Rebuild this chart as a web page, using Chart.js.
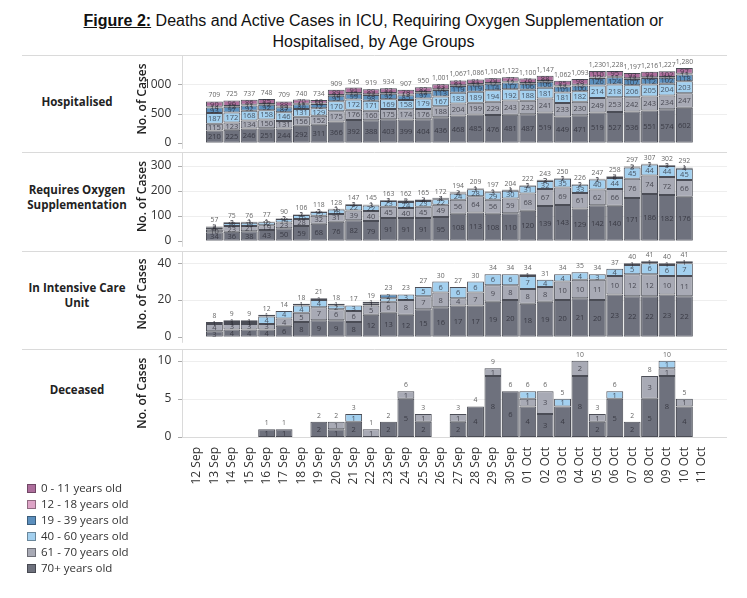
<!DOCTYPE html>
<html>
<head>
<meta charset="utf-8">
<script src="https://cdn.jsdelivr.net/npm/chart.js@4/dist/chart.umd.min.js"></script>
<style>
  body { margin: 0; background: #fff; }
  #hoja { position: relative; width: 747px; height: 598px; overflow: hidden; font-family: "Open Sans", sans-serif; }
  #titulo { position: absolute; top: 10px; left: 0; width: 747px; text-align: center;
            font: 16px/21px "Liberation Sans", Arial, sans-serif; color: #111; }
  .panel { position: absolute; left: 0; width: 747px; }
  .fila { position: absolute; left: 2px; width: 150px; text-align: center; transform: translateY(-50%);
          font-weight: bold; font-size: 11.5px; line-height: 15px; color: #222; }
  #leyenda { position: absolute; left: 27px; top: 480px; font-size: 11.5px; color: #333; }
  #leyenda div { height: 16px; line-height: 16px; }
  #leyenda span { display: inline-block; width: 9px; height: 9px; margin-right: 5px; vertical-align: -1px;
                  border: 1px solid rgba(0,0,0,0.35); box-sizing: border-box; }
</style>
</head>
<body>
<div id="hoja">
  <div id="titulo"><u><b>Figure 2:</b></u> Deaths and Active Cases in ICU, Requiring Oxygen Supplementation or<br>Hospitalised, by Age Groups</div>

  <div class="fila" style="top:101px">Hospitalised</div>
  <div class="fila" style="top:197px">Requires Oxygen<br>Supplementation</div>
  <div class="fila" style="top:295px">In Intensive Care<br>Unit</div>
  <div class="fila" style="top:389px">Deceased</div>

  <div class="panel" style="top:39px;height:120px"><canvas id="g1"></canvas></div>
  <div class="panel" style="top:136px;height:121px"><canvas id="g2"></canvas></div>
  <div class="panel" style="top:235px;height:118px"><canvas id="g3"></canvas></div>
  <div class="panel" style="top:333px;height:154px"><canvas id="g4"></canvas></div>

  <div id="leyenda"></div>
</div>

<script>
// ===============================
// DATOS
// ===============================
const fechas = ["12 Sep","13 Sep","14 Sep","15 Sep","16 Sep","17 Sep","18 Sep","19 Sep","20 Sep","21 Sep",
  "22 Sep","23 Sep","24 Sep","25 Sep","26 Sep","27 Sep","28 Sep","29 Sep","30 Sep","01 Oct",
  "02 Oct","03 Oct","04 Oct","05 Oct","06 Oct","07 Oct","08 Oct","09 Oct","10 Oct","11 Oct"];

const grupos = ["0 - 11 years old","12 - 18 years old","19 - 39 years old","40 - 60 years old","61 - 70 years old","70+ years old"];
const colores = ["#ad6e9c","#dea4c7","#5b8fbd","#a3d0ef","#a8aab5","#6e717d"];

// Hospitalised, 13 Sep - 10 Oct
const hosp0  = [90,96,86,85,88,70,60,89,91,89,83,78,82,83,81,81,79,77,76,88,85,98,110,95,93,93,102,97];
const hosp12 = [14,12,11,12,13,11,10,14,15,13,12,13,12,14,12,13,12,12,11,12,13,12,12,11,13,12,11,13];
const hosp19 = [93,97,92,92,87,80,72,95,99,98,92,85,97,113,119,119,114,117,106,106,101,100,126,124,107,112,102,118];
const hosp40 = [187,172,168,158,146,131,129,170,172,171,169,158,179,167,183,189,194,192,188,181,181,182,214,218,206,205,204,203];
const hosp61 = [115,123,134,150,131,156,152,175,176,160,175,174,176,188,204,199,229,243,232,241,233,230,249,253,242,243,234,247];
const hosp70 = [210,225,246,251,244,292,311,366,392,388,403,399,404,436,468,485,476,481,487,519,449,471,519,527,536,551,574,602];

// Requires oxygen, 13 Sep - 10 Oct
const oxi0  = [2,1,1,1,1,1,1,1,1,1,1,2,2,2,2,1,1,1,1,2,1,1,1,2,2,1,1,1];
const oxi19 = [3,3,3,2,2,2,2,2,3,3,3,5,4,4,4,3,3,4,2,3,2,2,2,6,3,2,3,4];
const oxi40 = [8,12,13,12,14,16,15,18,22,22,23,24,23,22,24,28,29,30,31,32,35,33,40,44,45,44,44,45];
const oxi61 = [10,23,21,19,23,28,32,31,39,40,45,40,45,49,56,64,56,59,68,67,69,61,62,66,76,74,72,66];
const oxi70 = [34,36,38,43,50,59,68,76,82,79,91,91,91,95,108,113,108,110,120,139,143,129,142,140,171,186,182,176];

// ICU, 13 Sep - 10 Oct
const uci19 = [0,1,1,1,0,1,1,1,0,1,2,0,0,0,0,0,0,0,1,0,0,0,0,0,1,1,1,1];
const uci40 = [1,1,1,4,4,4,4,2,3,1,2,3,5,6,6,6,6,6,7,4,4,4,3,4,5,6,6,7];
const uci61 = [4,3,3,3,4,5,7,6,6,5,6,8,7,8,4,7,9,8,8,8,10,10,11,10,12,12,10,11];
const uci70 = [3,4,4,4,6,8,9,9,8,12,13,12,15,16,17,17,19,20,18,19,20,21,20,23,22,22,23,22];

// Deceased, 12 Sep - 11 Oct
const dec40 = [0,0,0,0,0,0,0,0,0,1,0,0,0,0,0,0,0,0,0,1,0,1,0,0,1,0,0,1,0,0];
const dec61 = [0,0,0,0,0,0,0,0,1,0,1,0,1,1,0,1,0,1,0,1,3,0,2,1,0,0,3,1,1,0];
const dec70 = [0,0,0,0,1,1,0,2,1,2,0,2,5,2,0,2,4,8,6,4,3,4,8,2,5,2,5,8,4,0];

// ===============================
// UTIL
// ===============================
const rellenar = arr => [null, ...arr.map(v => v || null), null];
const limpiar  = arr => arr.map(v => v || null);

function series(lista) {
  // lista: [[indiceGrupo, datos], ...] de abajo hacia arriba
  return lista.map(([g, d]) => ({
    label: grupos[g],
    data: d,
    backgroundColor: colores[g],
    borderColor: "#4b4d56",
    borderWidth: 1,
    borderSkipped: false,
    barPercentage: 0.97,
    categoryPercentage: 1
  }));
}

// ===============================
// PLUGINS
// ===============================
const marco = {
  id: "marco",
  beforeDatasetsDraw(chart, args, opts) {
    const { ctx, chartArea: a } = chart;
    const y = chart.scales.y;
    const linea = (x1, y1, x2, y2) => { ctx.beginPath(); ctx.moveTo(x1, y1); ctx.lineTo(x2, y2); ctx.stroke(); };
    ctx.save();
    ctx.lineWidth = 1;
    ctx.strokeStyle = "#eeeeee";
    opts.marcas.forEach(v => {
      if (v === 0) return;
      const py = Math.round(y.getPixelForValue(v)) + 0.5;
      linea(182, py, 727, py);
    });
    ctx.strokeStyle = "#aaaaaa";
    opts.marcas.forEach(v => {
      const py = Math.round(y.getPixelForValue(v)) + 0.5;
      linea(178, py, 182, py);
    });
    ctx.strokeStyle = "#dadada";
    linea(22, Math.round(a.top) + 0.5, 727, Math.round(a.top) + 0.5);
    linea(182.5, a.top, 182.5, a.bottom + (opts.fondo ? 0 : 6));
    if (opts.fondo) linea(182, Math.round(a.bottom) + 0.5, 727, Math.round(a.bottom) + 0.5);
    ctx.restore();
  }
};

const etiquetas = {
  id: "etiquetas",
  afterDatasetsDraw(chart) {
    const { ctx } = chart;
    const x = chart.scales.x;
    const y = chart.scales.y;
    ctx.save();
    ctx.font = "7.5px 'Open Sans'";
    ctx.textAlign = "center";
    ctx.textBaseline = "middle";
    ctx.fillStyle = "rgba(40,40,50,0.75)";
    chart.data.datasets.forEach((ds, i) => {
      chart.getDatasetMeta(i).data.forEach((bar, j) => {
        const v = ds.data[j];
        if (!v) return;
        ctx.fillText(v, x.getPixelForValue(j), (bar.y + bar.base) / 2 + 0.5);
      });
    });
    ctx.font = "6.8px 'Open Sans'";
    ctx.fillStyle = "#666";
    chart.data.labels.forEach((l, j) => {
      const total = chart.data.datasets.reduce((s, ds) => s + (ds.data[j] || 0), 0);
      if (!total) return;
      ctx.fillText(total.toLocaleString("en-US"), x.getPixelForValue(j), y.getPixelForValue(total) - 6);
    });
    ctx.restore();
  }
};

// ===============================
// GRAFICAS
// ===============================
function panel(id, datasets, max, marcas, conEjeX) {
  return new Chart(document.getElementById(id), {
    type: "bar",
    data: { labels: fechas, datasets },
    plugins: [marco, etiquetas],
    options: {
      responsive: true,
      maintainAspectRatio: false,
      animation: false,
      layout: { padding: { left: 134, right: 36.5, top: 12, bottom: conEjeX ? 0 : 12 } },
      plugins: {
        legend: { display: false },
        tooltip: { enabled: false },
        marco: { marcas, fondo: conEjeX }
      },
      scales: {
        x: {
          stacked: true,
          display: conEjeX,
          grid: { display: false },
          border: { display: false },
          ticks: { color: "#333", font: { size: 12, family: "Open Sans" }, minRotation: 90, maxRotation: 90, autoSkip: false, padding: 2 },
          afterFit: s => { s.height = conEjeX ? 50 : 0; }
        },
        y: {
          stacked: true,
          min: 0,
          max,
          grid: { display: false },
          border: { display: false },
          afterBuildTicks: s => { s.ticks = marcas.map(v => ({ value: v })); },
          afterFit: s => { s.width = 54.3; },
          ticks: { color: "#333", font: { size: 12, family: "Open Sans" }, padding: 9, callback: v => v },
          title: { display: true, text: "No. of Cases", color: "#222", padding: { top: 1, bottom: 0 },
                   font: { size: 12, family: "Open Sans", weight: "600" } }
        }
      }
    }
  });
}

panel("g1", series([[5, rellenar(hosp70)], [4, rellenar(hosp61)], [3, rellenar(hosp40)], [2, rellenar(hosp19)], [1, rellenar(hosp12)], [0, rellenar(hosp0)]]),
  1500, [0, 500, 1000], false);

panel("g2", series([[5, rellenar(oxi70)], [4, rellenar(oxi61)], [3, rellenar(oxi40)], [2, rellenar(oxi19)], [0, rellenar(oxi0)]]),
  353, [0, 100, 200, 300], false);

panel("g3", series([[5, rellenar(uci70)], [4, rellenar(uci61)], [3, rellenar(uci40)], [2, rellenar(uci19)]]),
  46.5, [0, 20, 40], false);

panel("g4", series([[5, limpiar(dec70)], [4, limpiar(dec61)], [3, limpiar(dec40)]]),
  11.5, [0, 5, 10], true);

// ===============================
// LEYENDA
// ===============================
const leyenda = document.getElementById("leyenda");
grupos.forEach((g, i) => {
  leyenda.innerHTML += `<div><span style="background:${colores[i]}"></span>${g}</div>`;
});
</script>
</body>
</html>
